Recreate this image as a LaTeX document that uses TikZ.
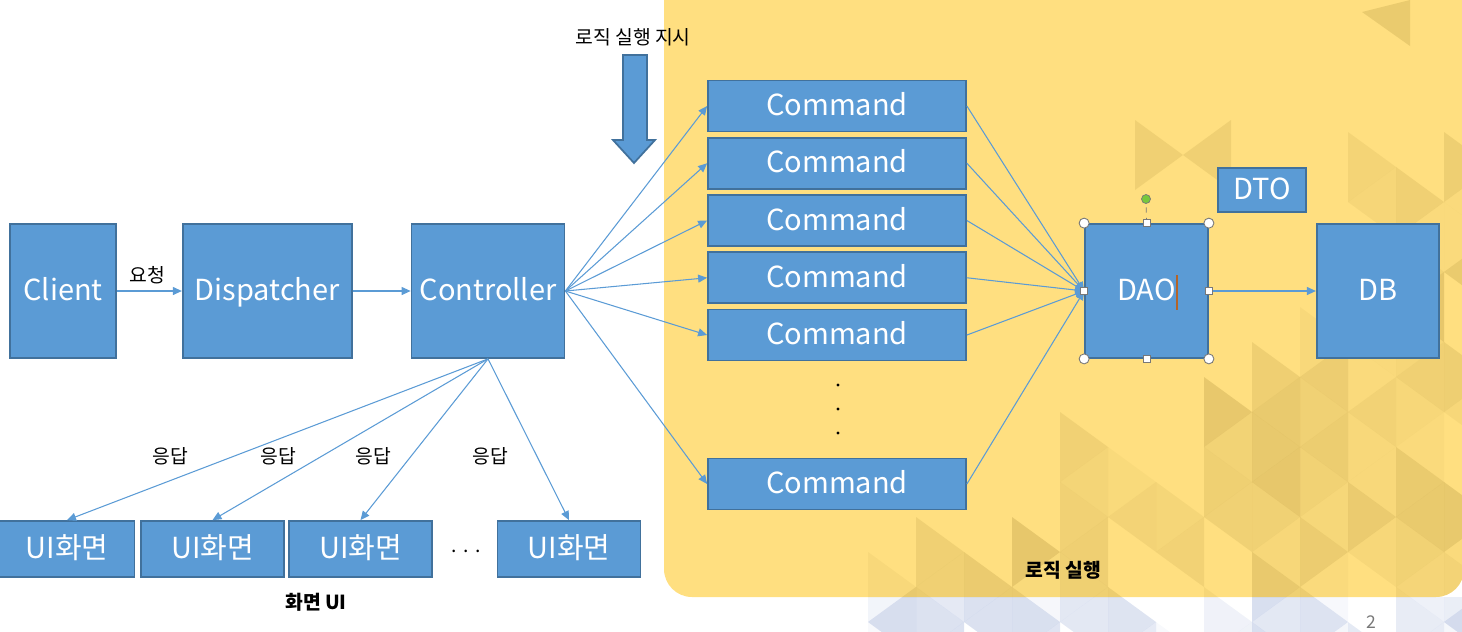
\documentclass[tikz,border=0pt]{standalone}
\usepackage{fontspec}
\setmainfont{Noto Sans CJK KR}
\definecolor{boxblue}{RGB}{91,155,213}
\definecolor{boxedge}{RGB}{65,113,156}
\definecolor{bgyellow}{RGB}{255,223,128}
\definecolor{trigold}{RGB}{175,145,60}
\definecolor{triblue}{RGB}{110,135,195}
\definecolor{handlegray}{RGB}{120,120,120}
\definecolor{handlegreen}{RGB}{120,200,60}
\definecolor{cursorbrown}{RGB}{180,100,40}
\usetikzlibrary{
  arrows.meta,
  calc,
  positioning,
}
\tikzset{
  >={Triangle[length=1.8mm,width=1.6mm]},
  box/.style={draw=boxedge,line width=1pt,fill=boxblue,text=white,inner sep=0pt,
    text height=11pt,text depth=0pt,font=\fontsize{16.5}{18}\selectfont},
  bigbox/.style={box,minimum height=26.8mm},
  cmdbox/.style={box,minimum width=51.6mm,minimum height=10.2mm},
  uibox/.style={box,minimum width=28.6mm,minimum height=11.2mm},
  link/.style={draw=boxblue,line width=0.6pt,->},
  note/.style={inner sep=1pt,font=\fontsize{11}{13}\selectfont},
  title/.style={inner sep=1pt,font=\fontsize{11}{13}\selectfont\bfseries},
  handle/.style={draw=handlegray,fill=white,line width=0.5pt},
}

\begin{document}
\begin{tikzpicture}[x=0.2mm,y=-0.2mm]
        \useasboundingbox (0,0) rectangle (1462,631);

        % background panel with triangle pattern
        \fill[bgyellow,rounded corners=5.6mm] (664,-40) rectangle (1464,597);
        \begin{scope}
            \clip[rounded corners=5.6mm] (664,-40) rectangle (1464,597);
            \pgfmathsetseed{11}
            \foreach \i in {0,...,13} {
                \foreach \j in {-7,...,2} {
                    \pgfmathsetmacro\xa{820+48*\i}
                    \pgfmathsetmacro\xb{\xa+48}
                    \pgfmathsetmacro\ya{447+70*\j+35*mod(\i,2)}
                    \pgfmathtruncatemacro\show{((\ya>540-0.55*(\xa-820) && rnd>0.3) || (\xa>1300 && \ya>120 && rnd>0.4)) ? 1 : 0}
                    \pgfmathsetmacro\opa{0.05+0.25*rnd}
                    \pgfmathsetmacro\opb{0.05+0.25*rnd}
                    \ifnum\show=1
                        \fill[trigold,opacity=\opa] (\xa,\ya) -- (\xa,\ya+70) -- (\xb,\ya+35) -- cycle;
                        \fill[trigold,opacity=\opb] (\xb,\ya+35) -- (\xb,\ya+105) -- (\xa,\ya+70) -- cycle;
                    \fi
                }
            }
            \fill[trigold,opacity=0.18] (1135,120) -- (1135,190) -- (1183,155) -- cycle;
            \fill[trigold,opacity=0.18] (1231,120) -- (1231,190) -- (1183,155) -- cycle;
            \fill[trigold,opacity=0.25] (1410,0) -- (1410,46) -- (1362,12) -- cycle;
        \end{scope}
        \begin{scope}
            \clip (820,597) rectangle (1462,631);
            \pgfmathsetseed{11}
            \foreach \i in {0,...,13} {
                \foreach \j in {-7,...,2} {
                    \pgfmathsetmacro\xa{820+48*\i}
                    \pgfmathsetmacro\xb{\xa+48}
                    \pgfmathsetmacro\ya{447+70*\j+35*mod(\i,2)}
                    \pgfmathtruncatemacro\show{((\ya>540-0.55*(\xa-820) && rnd>0.3) || (\xa>1300 && \ya>120 && rnd>0.4)) ? 1 : 0}
                    \pgfmathsetmacro\opa{0.05+0.25*rnd}
                    \pgfmathsetmacro\opb{0.05+0.25*rnd}
                    \ifnum\show=1
                        \fill[triblue,opacity=\opa] (\xa,\ya) -- (\xa,\ya+70) -- (\xb,\ya+35) -- cycle;
                        \fill[triblue,opacity=\opb] (\xb,\ya+35) -- (\xb,\ya+105) -- (\xa,\ya+70) -- cycle;
                    \fi
                }
            }
        \end{scope}

        % main row
        \node[bigbox,minimum width=21.2mm] (client) at (63,291) {Client};
        \node[bigbox,minimum width=33.8mm,right=13mm of client] (dispatcher) {Dispatcher};
        \node[bigbox,minimum width=30.6mm,right=11.6mm of dispatcher] (controller) {Controller};

        % commands
        \node[cmdbox] (cmd1) at (837,106) {Command};
        \node[cmdbox,below=0.9mm of cmd1] (cmd2) {Command};
        \node[cmdbox,below=0.9mm of cmd2] (cmd3) {Command};
        \node[cmdbox,below=0.9mm of cmd3] (cmd4) {Command};
        \node[cmdbox,below=0.9mm of cmd4] (cmd5) {Command};
        \node[cmdbox] (cmd6) at (837,484) {Command};
        \foreach \yy in {385,409,433}
            \fill (838,\yy) circle (0.9pt);

        % data side
        \node[bigbox,minimum width=24.6mm] (dao) at (1146.5,291) {DAO};
        \node[bigbox,minimum width=24.4mm,right=21.4mm of dao] (db) {DB};
        \node[box,minimum width=17.6mm,minimum height=8.8mm] (dto) at (1262,190) {DTO};

        % screens
        \node[uibox,minimum width=27mm] (ui1) at (67,549) {UI화면};
        \node[uibox] (ui2) at (212.5,549) {UI화면};
        \node[uibox] (ui3) at (360.5,549) {UI화면};
        \node[uibox] (ui4) at (569,549) {UI화면};
        \node[note] (uidots) at (466,551) {.\,\,.\,\,.};

        % labels
        \node[note] (reqlabel) at (147,275) {요청};
        \node[note] (resp1) at (170,456) {응답};
        \node[note] (resp2) at (278,456) {응답};
        \node[note] (resp3) at (373,456) {응답};
        \node[note] (resp4) at (490,456) {응답};
        \node[note] (ordernote) at (633,37) {로직 실행 지시};
        \node[title] (uititle) at (316,602) {화면 UI};
        \node[title] (logictitle) at (1063,570) {로직 실행};
        \node[inner sep=0pt,text=handlegray,font=\fontsize{10}{12}\selectfont] (pagenum) at (1371,622) {2};

        % block arrow
        \draw[boxedge,fill=boxblue,line width=1pt]
            (623,55) -- (647,55) -- (647,140) -- (655,140) -- (634,163) -- (613,140) -- (623,140) -- cycle;

        % connectors
        \draw[link] (client) -- (dispatcher);
        \draw[link] (dispatcher) -- (controller);
        \foreach \k in {1,...,6} {
            \draw[link] (controller.east) -- (cmd\k.west);
            \draw[link] (cmd\k.east) -- (dao.west);
        }
        \draw[link] (dao) -- (db);
        \foreach \k in {1,...,4}
            \draw[link] (controller.south) -- (ui\k.north);

        % selection marks on DAO
        \draw[handlegray,dashed,line width=0.4pt] (dao.north) -- (1146,199);
        \draw[handlegray,fill=handlegreen,line width=0.4pt] (1146,199) circle (0.9mm);
        \foreach \a in {north west,north east,south west,south east}
            \draw[handle] (dao.\a) circle (1mm);
        \foreach \a in {north,south,east,west}
            \draw[handle] ($(dao.\a)+(-3.5,-3.5)$) rectangle ++(7,7);
        \draw[cursorbrown,line width=1pt] (1177,275) -- (1177,310);
    \end{tikzpicture}
\end{document}
